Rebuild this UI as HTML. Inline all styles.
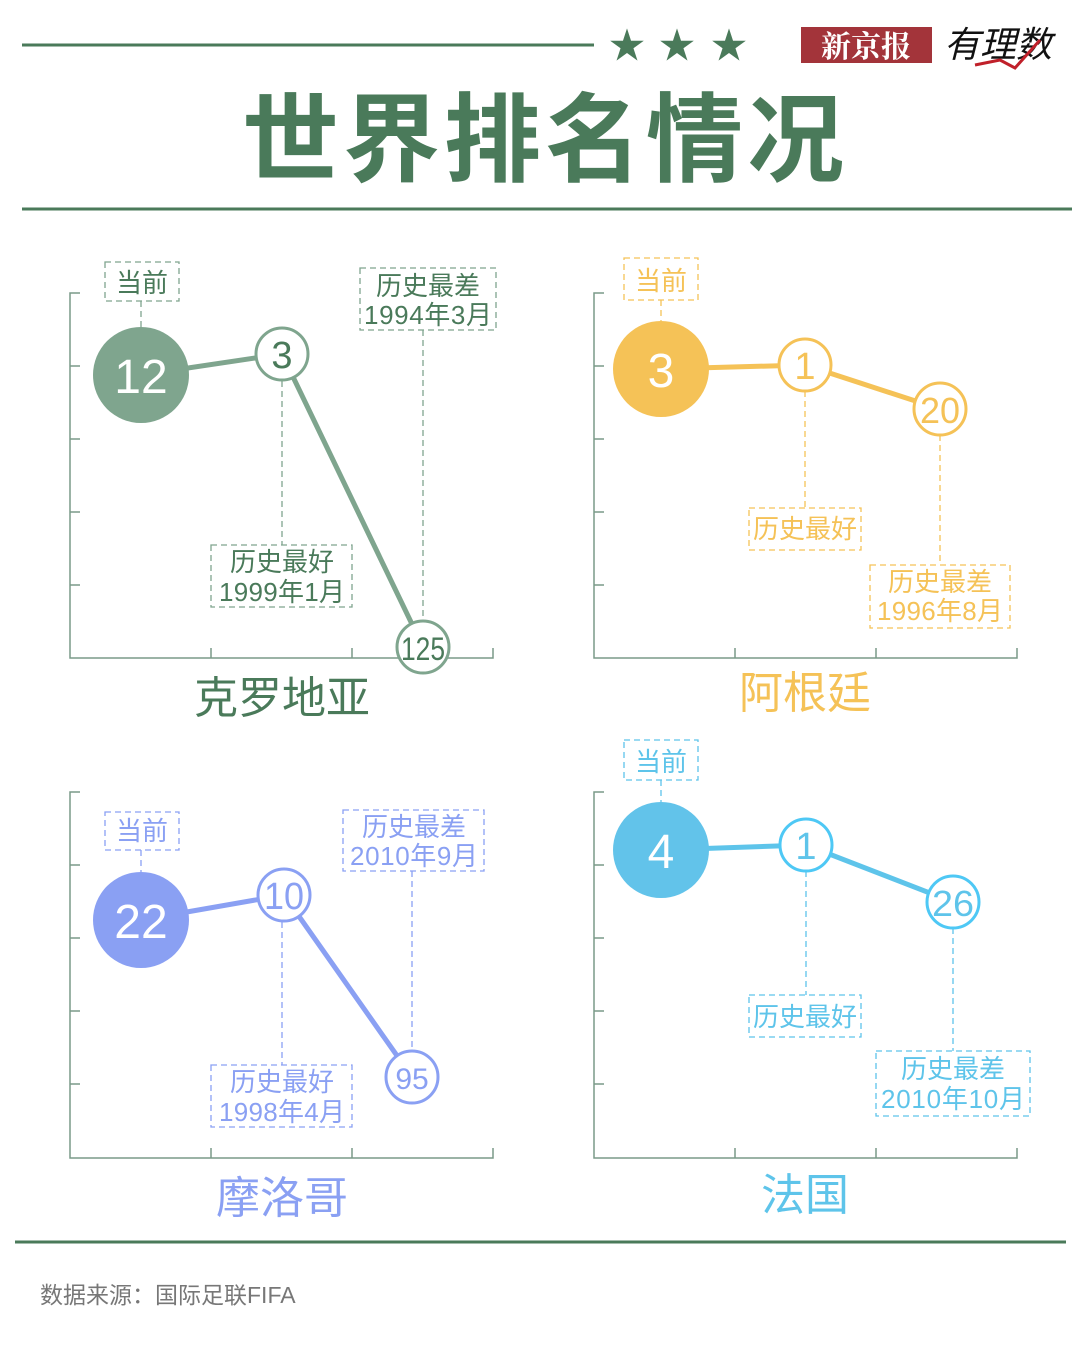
<!DOCTYPE html>
<html><head><meta charset="utf-8"><style>
body{margin:0;background:#fff}
svg text{font-family:"Liberation Sans","Noto Sans CJK SC",sans-serif}
</style></head><body>
<svg width="1080" height="1353" viewBox="0 0 1080 1353" xmlns="http://www.w3.org/2000/svg">
<rect width="1080" height="1353" fill="#fff"/>
<line x1="22" y1="45" x2="594" y2="45" stroke="#4a7a5a" stroke-width="3"/>
<g fill="#4a7a5a" font-size="36" text-anchor="middle"><text x="627" y="58">★</text><text x="677" y="58">★</text><text x="729" y="58">★</text></g>
<rect x="801" y="27" width="131" height="36" fill="#a3343a"/>
<text x="866" y="57" fill="#fff" font-size="30" font-weight="bold" text-anchor="middle" style="font-family:'Noto Serif CJK SC',serif">新京报</text>
<text x="998" y="57" fill="#111" font-size="36" font-style="italic" text-anchor="middle">有理数</text>
<path d="M975 65 L1000 60 L1015 68 L1040 40" stroke="#c0202a" stroke-width="3" fill="none"/>
<text x="545" y="174" fill="#4a7a5a" font-size="97" font-weight="bold" text-anchor="middle" letter-spacing="4">世界排名情况</text>
<line x1="22" y1="209" x2="1072" y2="209" stroke="#4a7a5a" stroke-width="3"/>

<g stroke="#7a9a88" stroke-width="1.5" fill="none">
<path d="M80 293H70V658H493V648M70 366H80M70 439H80M70 512H80M70 585H80M211 658V648M352 658V648"/>
<path d="M604 293H594V658H1017V648M594 366H604M594 439H604M594 512H604M594 585H604M735 658V648M876 658V648"/>
<path d="M80 792H70V1158H493V1148M70 865H80M70 938H80M70 1011H80M70 1084H80M211 1158V1148M352 1158V1148"/>
<path d="M604 792H594V1158H1017V1148M594 865H604M594 938H604M594 1011H604M594 1084H604M735 1158V1148M876 1158V1148"/>
</g>

<!-- Croatia -->
<g stroke="#7fa58e" stroke-width="1.3" stroke-dasharray="6,4" fill="none">
<rect x="105" y="262" width="74" height="39"/><rect x="360" y="268" width="136" height="62"/><rect x="211" y="545" width="141" height="62"/>
<path d="M141 301V327M282 381V545M423 330V620"/>
</g>
<path d="M141 375L282 354L423 647" stroke="#7fa58e" stroke-width="5" fill="none"/>
<circle cx="141" cy="375" r="48" fill="#7fa58e"/>
<circle cx="282" cy="354" r="26" fill="#fff" stroke="#7fa58e" stroke-width="3"/>
<circle cx="423" cy="647" r="26" fill="#fff" stroke="#7fa58e" stroke-width="3"/>
<g fill="#4a7a5a" font-size="26" text-anchor="middle">
<text x="142" y="292">当前</text><text x="428" y="295">历史最差</text><text x="428" y="324" textLength="128">1994年3月</text>
<text x="282" y="571">历史最好</text><text x="282" y="601" textLength="126">1999年1月</text>
<text x="282" y="368" font-size="38">3</text><text x="423" y="660" font-size="32" textLength="44" lengthAdjust="spacingAndGlyphs">125</text>
<text x="282" y="713" font-size="44">克罗地亚</text></g>
<text x="141" y="393" fill="#fff" font-size="48" text-anchor="middle">12</text>

<!-- Argentina -->
<g stroke="#f5c257" stroke-width="1.3" stroke-dasharray="6,4" fill="none">
<rect x="624" y="258" width="74" height="42"/><rect x="749" y="508" width="112" height="42"/><rect x="870" y="565" width="140" height="63"/>
<path d="M661 300V321M805 391V508M940 435V565"/>
</g>
<path d="M661 369L805 365L940 409" stroke="#f5c257" stroke-width="5" fill="none"/>
<circle cx="661" cy="369" r="48" fill="#f5c257"/>
<circle cx="805" cy="365" r="26" fill="#fff" stroke="#f5c257" stroke-width="3"/>
<circle cx="940" cy="409" r="26" fill="#fff" stroke="#f5c257" stroke-width="3"/>
<g fill="#f5c257" font-size="26" text-anchor="middle">
<text x="661" y="290">当前</text><text x="805" y="538">历史最好</text>
<text x="940" y="591">历史最差</text><text x="940" y="620" textLength="126">1996年8月</text>
<text x="805" y="379" font-size="38">1</text><text x="940" y="423" font-size="36" textLength="40" lengthAdjust="spacingAndGlyphs">20</text>
<text x="805" y="708" font-size="44">阿根廷</text></g>
<text x="661" y="387" fill="#fff" font-size="48" text-anchor="middle">3</text>

<!-- Morocco -->
<g stroke="#8aa0f3" stroke-width="1.3" stroke-dasharray="6,4" fill="none">
<rect x="105" y="812" width="74" height="38"/><rect x="343" y="810" width="141" height="61"/><rect x="211" y="1065" width="141" height="62"/>
<path d="M141 850V872M282 922V1065M412 871V1050"/>
</g>
<path d="M141 920L284 895L412 1077" stroke="#8aa0f3" stroke-width="5" fill="none"/>
<circle cx="141" cy="920" r="48" fill="#8aa0f3"/>
<circle cx="284" cy="895" r="26" fill="#fff" stroke="#8aa0f3" stroke-width="3"/>
<circle cx="412" cy="1077" r="26" fill="#fff" stroke="#8aa0f3" stroke-width="3"/>
<g fill="#8aa0f3" font-size="26" text-anchor="middle">
<text x="142" y="840">当前</text><text x="414" y="836">历史最差</text><text x="414" y="865" textLength="128">2010年9月</text>
<text x="282" y="1091">历史最好</text><text x="282" y="1121" textLength="126">1998年4月</text>
<text x="284" y="909" font-size="38" textLength="40" lengthAdjust="spacingAndGlyphs">10</text><text x="412" y="1089" font-size="30">95</text>
<text x="282" y="1213" font-size="44">摩洛哥</text></g>
<text x="141" y="938" fill="#fff" font-size="48" text-anchor="middle">22</text>

<!-- France -->
<g stroke="#5ec4ea" stroke-width="1.3" stroke-dasharray="6,4" fill="none">
<rect x="624" y="740" width="74" height="40"/><rect x="749" y="995" width="112" height="42"/><rect x="876" y="1051" width="154" height="65"/>
<path d="M661 780V802M806 871V995M953 928V1051"/>
</g>
<path d="M661 850L806 845L953 902" stroke="#5ec4ea" stroke-width="5" fill="none"/>
<circle cx="661" cy="850" r="48" fill="#62c3ea"/>
<circle cx="806" cy="845" r="26" fill="#fff" stroke="#4ec8f5" stroke-width="3"/>
<circle cx="953" cy="902" r="26" fill="#fff" stroke="#4ec8f5" stroke-width="3"/>
<g fill="#5ec4ea" font-size="26" text-anchor="middle">
<text x="661" y="771">当前</text><text x="805" y="1026">历史最好</text>
<text x="953" y="1078">历史最差</text><text x="953" y="1108" textLength="144">2010年10月</text>
<text x="806" y="859" font-size="38">1</text><text x="953" y="916" font-size="36" textLength="42" lengthAdjust="spacingAndGlyphs">26</text>
<text x="805" y="1210" font-size="44">法国</text></g>
<text x="661" y="868" fill="#fff" font-size="48" text-anchor="middle">4</text>

<line x1="15" y1="1242" x2="1066" y2="1242" stroke="#4a7a5a" stroke-width="3"/>
<text x="40" y="1303" fill="#777" font-size="23">数据来源：国际足联FIFA</text>
</svg>
</body></html>
